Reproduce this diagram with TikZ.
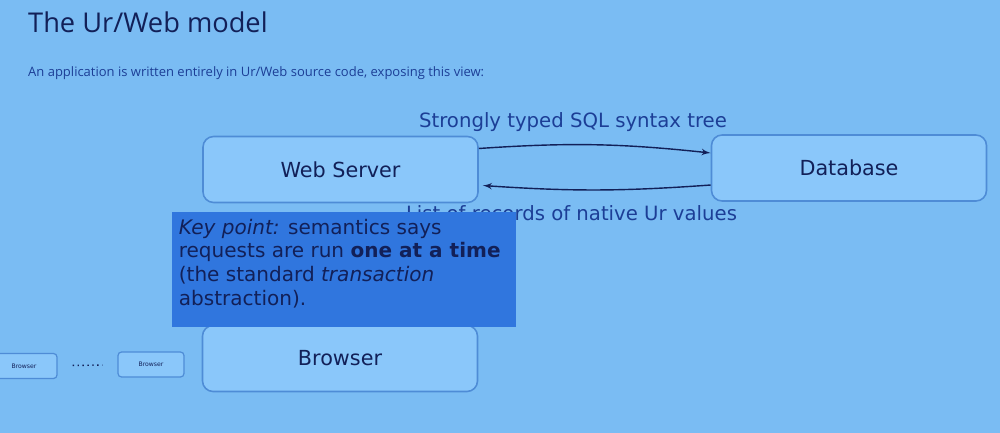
\documentclass[tikz,border=0pt]{standalone}
\usepackage{fontspec}
\setmainfont{DejaVu Sans}
\newfontfamily\slidefont{Open Sans}
\usepackage{xcolor}
\usetikzlibrary{shapes,arrows,positioning,calc}
\definecolor{slidebg}{RGB}{122,188,243}
\definecolor{boxfill}{RGB}{138,199,250}
\definecolor{boxline}{RGB}{78,140,214}
\definecolor{keyfill}{RGB}{48,118,222}
\definecolor{inkcolor}{RGB}{18,32,88}
\definecolor{subcolor}{RGB}{28,62,150}

\begin{document}
\begin{tikzpicture}[>=latex', every node/.style={text=inkcolor},
  tier/.style={draw=boxline,fill=boxfill,rounded corners=6pt,line width=0.9pt,minimum width=5.5cm,minimum height=1.32cm,font=\fontsize{11.8}{14}\selectfont},
  minitier/.style={draw=boxline,fill=boxfill,rounded corners=2pt,line width=0.7pt,minimum width=1.32cm,minimum height=0.5cm,font=\fontsize{3.5}{4}\selectfont},
  flow/.style={->,thick,draw=inkcolor},
  flowlabel/.style={font=\fontsize{11.2}{13}\selectfont,text=subcolor}]
\useasboundingbox (0,0) rectangle (20,-8.66);
\clip (0,0) rectangle (20,-8.66);
\fill[slidebg] (0,0) rectangle (20,-8.66);
% slide heading
\node[anchor=west,font=\slidefont\fontsize{15.5}{18}\selectfont](title) at (0.44,-0.44){The Ur/Web model};
\node[anchor=west,font=\slidefont\fontsize{7.4}{9}\selectfont,text=subcolor](intro) at (0.44,-1.46){An application is written entirely in Ur/Web source code, exposing this view:};
% tiers
\node[tier](server) at (6.81,-3.39){Web Server};
\node[tier](db) at (16.98,-3.36){Database};
\node[tier](browser) at (6.8,-7.17){Browser};
\node[minitier](client1) at (0.48,-7.32){Browser};
\node[minitier](client2) at (3.02,-7.29){Browser};
\draw[inkcolor,line width=0.8pt,dotted,shorten <=0.3cm,shorten >=0.3cm](client1)--(client2);
% queries and results
\draw[flow]([yshift=0.42cm]server.east) to[bend left=5] ([yshift=0.3cm]db.west);
\draw[flow]([yshift=-0.34cm]db.west) to[bend left=4] ([xshift=0.08cm,yshift=-0.32cm]server.east);
\node[flowlabel](sql) at (11.46,-2.44){Strongly typed SQL syntax tree};
\node[flowlabel](recs) at (11.43,-4.26){List of records of native Ur values};
% overlay note
\node[fill=keyfill,anchor=north west,inner sep=0.13cm,font=\fontsize{11.4}{13.6}\selectfont](key) at (3.44,-4.24){\parbox[c][2.04cm][t]{6.62cm}{\raggedright\textit{Key point:} semantics says\\requests are run \textbf{one at a time}\\(the standard \textit{transaction}\\abstraction).}};
\end{tikzpicture}
\end{document}
